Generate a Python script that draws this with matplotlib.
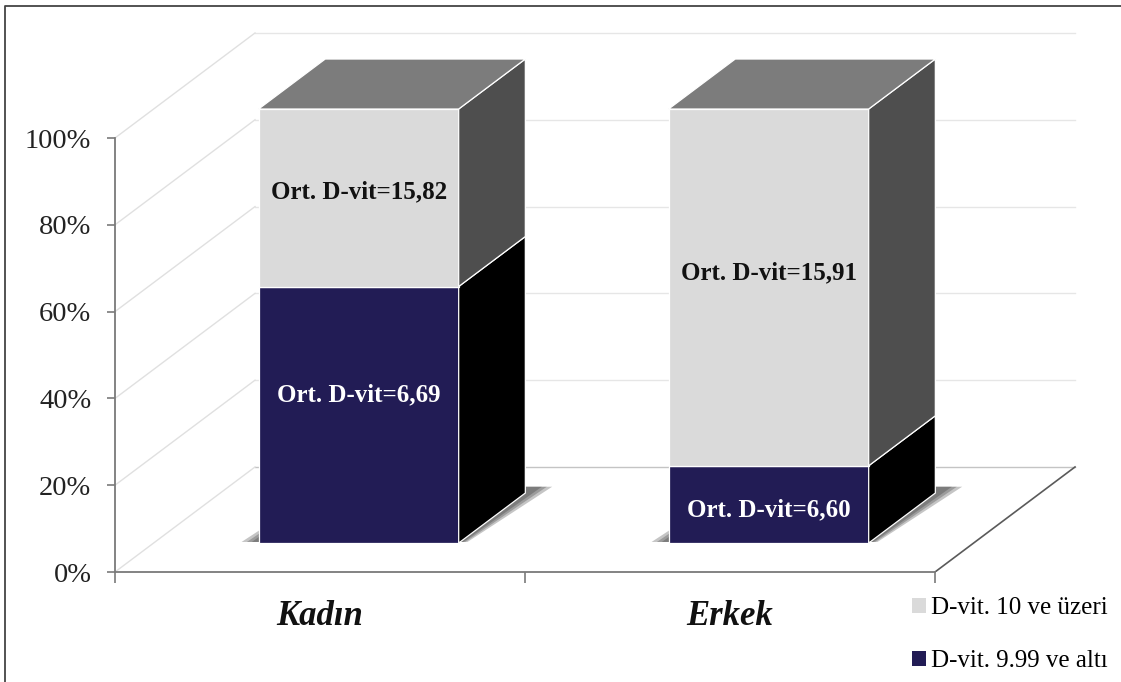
import matplotlib.pyplot as plt
from matplotlib.patches import Polygon, Patch
from matplotlib.lines import Line2D
from matplotlib.ticker import FuncFormatter

plt.rcParams['font.family'] = ['Liberation Serif', 'DejaVu Serif']

categories = ['Kadın', 'Erkek']
low_share = [59.1, 17.8]      # D-vit. 9.99 ve altı (%)
high_share = [40.9, 82.2]     # D-vit. 10 ve üzeri (%)
low_labels = ['Ort. D-vit=6,69', 'Ort. D-vit=6,60']
high_labels = ['Ort. D-vit=15,82', 'Ort. D-vit=15,91']
series_names = ['D-vit. 10 ve üzeri', 'D-vit. 9.99 ve altı']
y_ticks = [0, 20, 40, 60, 80, 100]

# colours: front / side / top
low_cols = ['#221c55', '#000000', '#000000']
high_cols = ['#dadada', '#4e4e4e', '#7c7c7c']

# oblique "3d" geometry, in data units
DX, DY = 0.3415, 24.2      # full depth offset of the back wall
F1, F2 = 0.276, 0.752      # bar front / back depth
BW = 0.488                 # bar width

W, H = 1121, 682
fig = plt.figure(figsize=(W / 100, H / 100), dpi=100)
ax = fig.add_axes([115 / W, 110 / H, 2.36 * 410 / W, 125 * 4.34 / H])
ax.set_xlim(0, 2.36)
ax.set_ylim(0, 125)


def proj(x, y, d):
    return (x + d * DX, y + d * DY)


# walls and floor
for t in y_ticks:
    c = '#c4c4c4' if t == 0 else '#e6e6e6'
    ax.plot([DX, 2 + DX], [t + DY, t + DY], color=c, lw=1.0, zorder=1)
    ax.plot([0, DX], [t, t + DY], color='#e0e0e0', lw=1.0, zorder=1)
ax.plot([2, 2 + DX], [0, DY], color='#5a5a5a', lw=1.2, zorder=1)


def face(pts, color, z):
    ax.add_patch(Polygon(pts, closed=True, facecolor=color, edgecolor='white',
                         lw=0.9, zorder=z))


for i, cat in enumerate(categories):
    x0 = i + 0.5 - BW / 2
    x1 = i + 0.5 + BW / 2

    # soft shadow on the floor
    for e in [0.045, 0.032, 0.02]:
        pts = [proj(x0 - e, 0, F1 + 0.01), proj(x1 + e * 0.4, 0, F1 + 0.01),
               proj(x1 + e, 0, F2 + 0.06), proj(x0 - e * 0.4, 0, F2 + 0.06)]
        ax.add_patch(Polygon(pts, closed=True, facecolor='#2a2a2a',
                             edgecolor='none', alpha=0.27, zorder=2))

    segs = [(0, low_share[i], low_cols), (low_share[i], low_share[i] + high_share[i], high_cols)]
    for j, (b, t, cols) in enumerate(segs):
        face([proj(x0, b, F1), proj(x1, b, F1), proj(x1, t, F1), proj(x0, t, F1)], cols[0], 3)
        face([proj(x1, b, F1), proj(x1, b, F2), proj(x1, t, F2), proj(x1, t, F1)], cols[1], 3)
        if j == len(segs) - 1:
            face([proj(x0, t, F1), proj(x1, t, F1), proj(x1, t, F2), proj(x0, t, F2)], cols[2], 3)

    # value labels on the front faces
    lx = i + 0.5 + F1 * DX
    ly_low = low_share[i] / 2 + [4.6, -1.3][i]
    ly_high = low_share[i] + high_share[i] / 2 + [1.4, 3.3][i]
    ax.text(lx, ly_low + F1 * DY, low_labels[i], color='white', fontsize=18,
            fontweight='bold', ha='center', va='center', zorder=5)
    ax.text(lx, ly_high + F1 * DY, high_labels[i], color='#111111', fontsize=18,
            fontweight='bold', ha='center', va='center', zorder=5)

# axes
for s in ['top', 'right']:
    ax.spines[s].set_visible(False)
ax.spines['left'].set_bounds(0, 100)
ax.spines['bottom'].set_bounds(0, 2)
for s in ['left', 'bottom']:
    ax.spines[s].set_color('#7a7a7a')
    ax.spines[s].set_linewidth(1.3)
ax.set_yticks(y_ticks)
ax.yaxis.set_major_formatter(FuncFormatter(lambda v, p: f'{v:.0f}%'))
ax.tick_params(axis='y', length=6, width=1.2, color='#7a7a7a', pad=11,
               labelsize=20.5, labelcolor='#222222')
ax.set_xticks([0, 1, 2])
ax.set_xticklabels(['', '', ''])
ax.tick_params(axis='x', which='major', length=8, width=1.2, color='#7a7a7a')
ax.set_xticks([0.5, 1.5], minor=True)
ax.set_xticklabels(categories, minor=True, fontsize=25, fontweight='bold',
                   fontstyle='italic', color='#111111')
ax.tick_params(axis='x', which='minor', length=0, pad=20)

handles = [Patch(facecolor=high_cols[0]), Patch(facecolor=low_cols[0])]
fig.legend(handles, series_names, loc='upper left', bbox_to_anchor=(912 / W, 1 - 597 / H),
           frameon=False, fontsize=18, handlelength=0.55, handleheight=0.55,
           handletextpad=0.2, labelspacing=1.25, borderpad=0, borderaxespad=0)

# partial outer frame
fig.add_artist(Line2D([5 / W, 5 / W, 1], [0, 1 - 6 / H, 1 - 6 / H],
                      transform=fig.transFigure, color='#444444', lw=1.3))

fig.savefig('out.png', dpi=100)
